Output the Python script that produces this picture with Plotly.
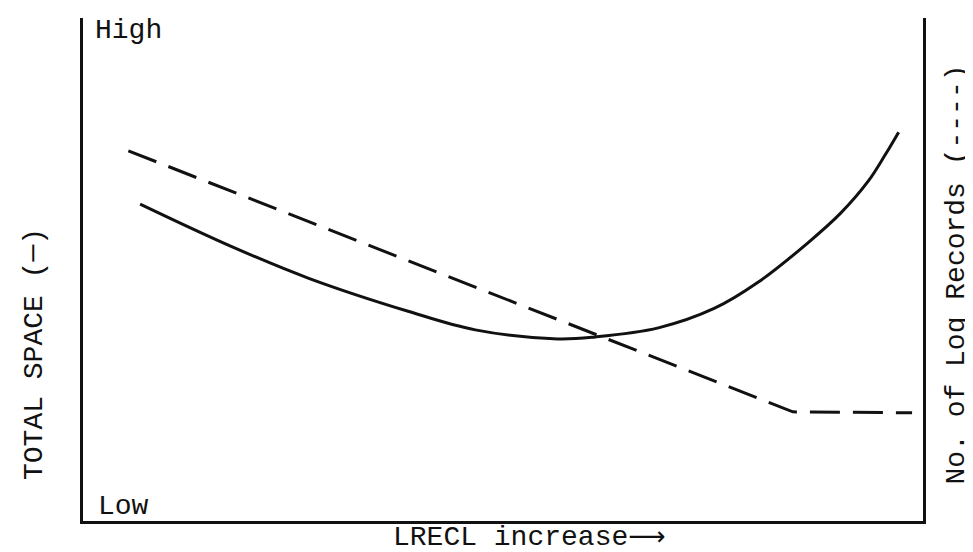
import plotly.graph_objects as go

# LRECL (relative units, 0-100 across the plot)
space_x = [6.8, 17.5, 26.8, 38.7, 46.7, 56.5, 61.0, 68.5, 75.2, 80.4, 86.3, 90.2, 93.5, 95.5, 97.1]
# total space (relative, 0 = Low, 100 = High)
space_y = [63.0, 54.7, 48.3, 41.7, 38.0, 36.2, 36.6, 38.4, 42.3, 47.5, 55.3, 61.2, 67.6, 72.8, 77.3]

records_x = [5.4, 84.5, 98.7]
records_y = [73.6, 21.7, 21.5]

FONT = "Courier New, Liberation Mono, monospace"
INK = "#111111"

fig = go.Figure()
fig.add_trace(go.Scatter(
    x=space_x, y=space_y, mode="lines", line_shape="spline",
    line=dict(color=INK, width=3), showlegend=False, hoverinfo="skip",
))
fig.add_trace(go.Scatter(
    x=records_x, y=records_y, mode="lines", yaxis="y2",
    line=dict(color=INK, width=3, dash="30px,13px"), showlegend=False, hoverinfo="skip",
))

axis_common = dict(range=[0, 100], showgrid=False, zeroline=False, showticklabels=False,
                   ticks="", showline=True, linecolor=INK, linewidth=2.5)

fig.update_layout(
    width=973, height=552,
    margin=dict(l=75, r=58, t=10, b=39),
    paper_bgcolor="white", plot_bgcolor="white",
    xaxis=dict(**axis_common),
    yaxis=dict(**axis_common, side="left"),
    yaxis2=dict(**axis_common, overlaying="y", side="right"),
    font=dict(family=FONT, color=INK, size=28),
)

fig.add_annotation(text="High", xref="paper", yref="paper", x=0.0119, y=0.976,
                   xanchor="left", yanchor="middle", showarrow=False)
fig.add_annotation(text="Low", xref="paper", yref="paper", x=0.0155, y=0.0298,
                   xanchor="left", yanchor="middle", showarrow=False)
fig.add_annotation(text="TOTAL SPACE (─)", xref="paper", yref="paper", x=-0.0583, y=0.332,
                   textangle=-90, xanchor="center", yanchor="middle", showarrow=False)
fig.add_annotation(text="No. of Log Records (----)", xref="paper", yref="paper", x=1.0405, y=0.49,
                   textangle=-90, xanchor="center", yanchor="middle", showarrow=False)
fig.add_annotation(text="LRECL increase<span style='font-family:DejaVu Sans;font-size:26px'>⟶</span>",
                   xref="paper", yref="paper", x=0.531, y=-0.031,
                   xanchor="center", yanchor="middle", showarrow=False)

fig.write_html("out.html")
